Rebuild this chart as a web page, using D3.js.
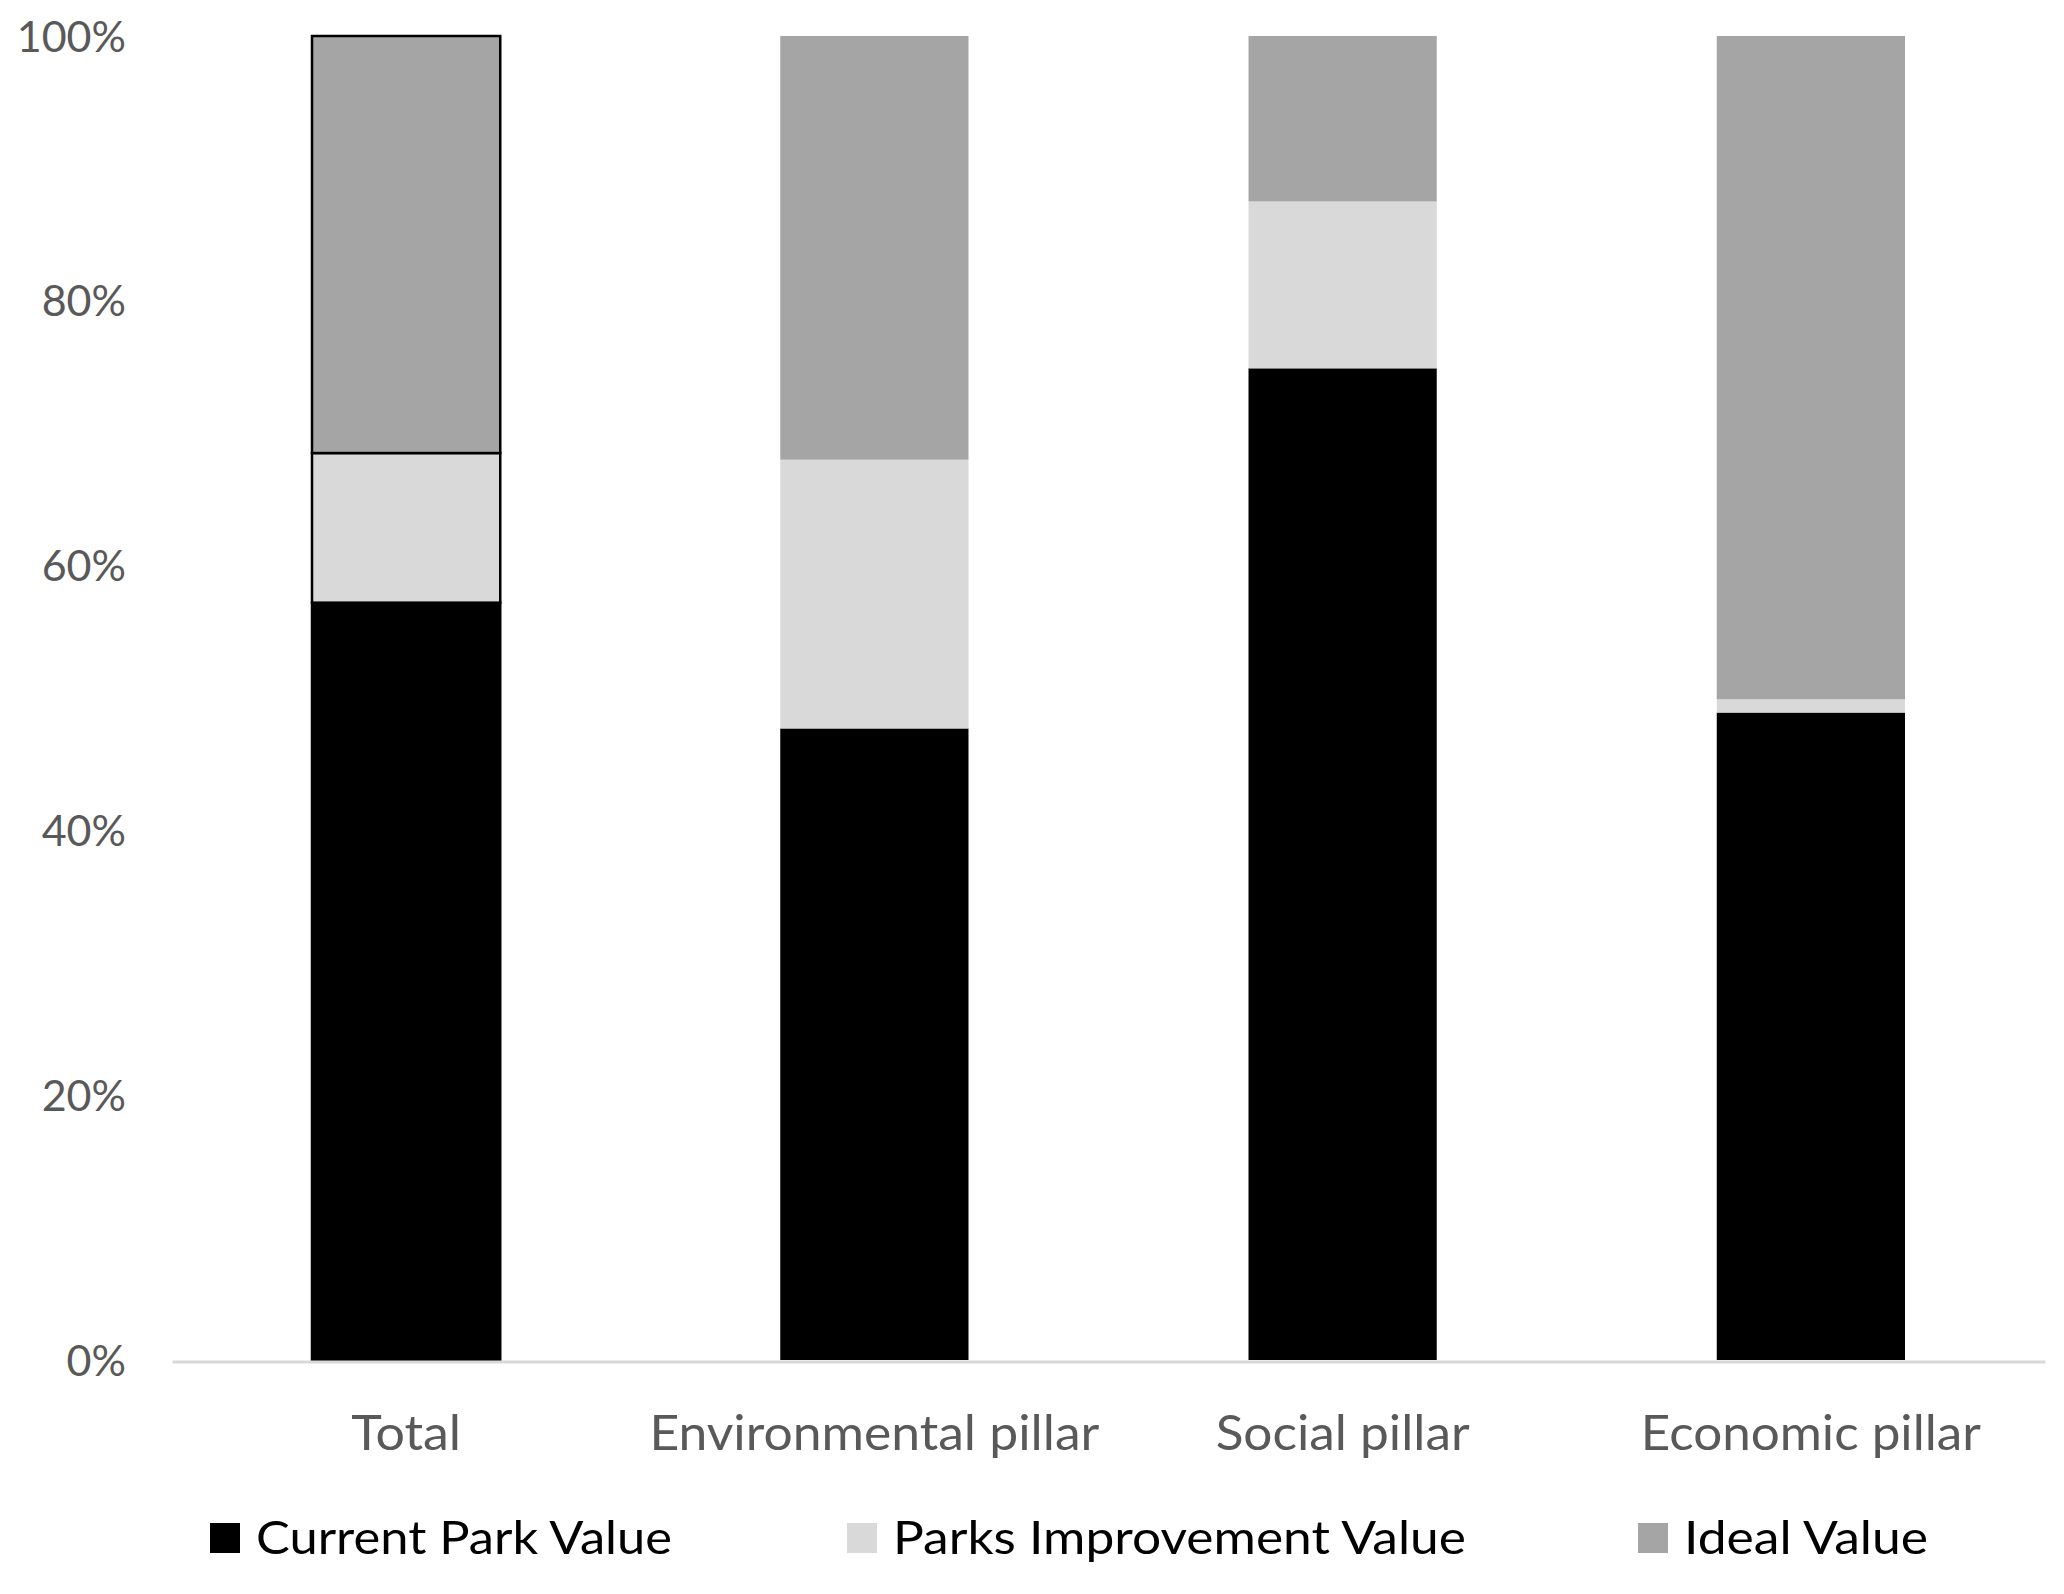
<!DOCTYPE html>
<html>
<head>
<meta charset="utf-8">
<script src="https://cdn.jsdelivr.net/npm/d3@7"></script>
<style>
  html, body { margin: 0; padding: 0; background: #ffffff; }
  svg { display: block; }
  text { font-family: Lato, "Open Sans", sans-serif; }
</style>
</head>
<body>
<svg id="chart" width="2064" height="1594"></svg>
<script>
const categories = ["Total", "Environmental pillar", "Social pillar", "Economic pillar"];
const seriesNames = ["Current Park Value", "Parks Improvement Value", "Ideal Value"];
const currentValue = [57.2, 47.7, 74.9, 48.9];
const improvementValue = [11.3, 20.3, 12.6, 1.0];
const idealValue = [31.5, 32.0, 12.5, 50.1];
const yTicks = [0, 20, 40, 60, 80, 100];

(function () {
const colors = ["#000000", "#d9d9d9", "#a5a5a5"];

const svg = d3.select("#chart");
const plotLeft = 172, plotRight = 2045, plotTop = 36, plotBottom = 1360;

const x = d3.scaleBand().domain(categories).range([plotLeft, plotRight])
  .paddingInner(0.598).paddingOuter(0.299);
const y = d3.scaleLinear().domain([0, 100]).range([plotBottom, plotTop]);

const rows = categories.map((c, i) => ({
  cat: c,
  "Current Park Value": currentValue[i],
  "Parks Improvement Value": improvementValue[i],
  "Ideal Value": idealValue[i]
}));
const stacked = d3.stack().keys(seriesNames)(rows);

// y tick labels
const yAxis = d3.axisLeft(y).tickValues(yTicks).tickFormat(d => d + "%").tickSize(0).tickPadding(0);
const ga = svg.append("g").attr("transform", `translate(126,0)`).call(yAxis);
ga.select(".domain").remove();
ga.selectAll("text")
  .attr("fill", "#595959")
  .style("font-size", "43px")
  .style("font-family", "Lato, 'Open Sans', sans-serif")
  .attr("dy", "0.35em");

// bars
const groups = svg.append("g").selectAll("g").data(stacked).join("g")
  .attr("fill", (d, i) => colors[i]);
groups.selectAll("rect").data(d => d).join("rect")
  .attr("x", d => x(d.data.cat))
  .attr("width", x.bandwidth())
  .attr("y", d => y(d[1]))
  .attr("height", d => y(d[0]) - y(d[1]))
  .attr("stroke", d => d.data.cat === "Total" ? "#000" : "none")
  .attr("stroke-width", d => d.data.cat === "Total" ? 2.5 : 0);

// x axis line
const xAxis = d3.axisBottom(x).tickSize(0).tickPadding(0);
const gx = svg.append("g").attr("transform", `translate(0,${plotBottom + 1.5})`).call(xAxis);
gx.select(".domain").attr("stroke", "#d9d9d9").attr("stroke-width", 3);
const catWidths = [110, 450, 254, 340];
gx.selectAll("text")
  .attr("fill", "#595959")
  .style("font-size", "48px")
  .style("font-family", "Lato, 'Open Sans', sans-serif")
  .attr("y", 0)
  .attr("dy", 0)
  .attr("transform", "translate(0,88)")
  .attr("textLength", (d, i) => catWidths[i])
  .attr("lengthAdjust", "spacingAndGlyphs");

// legend
const legX = [210, 847, 1638];
const legW = [416, 573, 244];
const leg = svg.append("g").selectAll("g").data(seriesNames).join("g")
  .attr("transform", (d, i) => `translate(${legX[i]},1523)`);
leg.append("rect").attr("width", 30).attr("height", 30).attr("fill", (d, i) => colors[i]);
leg.append("text")
  .attr("x", 46).attr("y", 31)
  .attr("fill", "#000")
  .style("font-size", "46px")
  .attr("textLength", (d, i) => legW[i])
  .attr("lengthAdjust", "spacingAndGlyphs")
  .text(d => d);
})();
</script>
</body>
</html>
